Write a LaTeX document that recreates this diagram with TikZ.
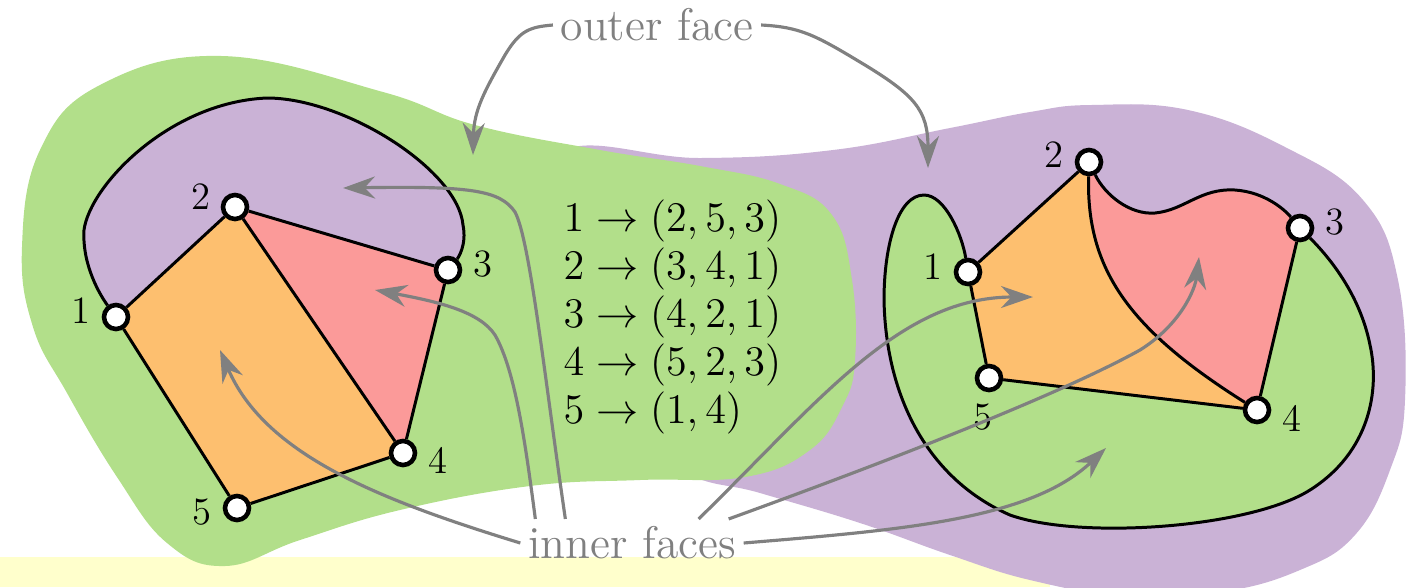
\documentclass[tikz,border=0pt]{standalone}
\usetikzlibrary{positioning, arrows.meta, backgrounds}
\definecolor{faceGreen}{RGB}{178,223,138}
\definecolor{facePurple}{RGB}{202,178,214}
\definecolor{faceOrange}{RGB}{253,191,111}
\definecolor{faceRed}{RGB}{251,154,153}
\definecolor{blockYellow}{RGB}{255,255,204}
\definecolor{pointerGray}{RGB}{128,128,128}
\newcommand{\rotfont}{\fontsize{13}{13.7}\selectfont\lineskiplimit=-10pt\relax}
\tikzset{
  vertex/.style={
    draw, circle, fill=white, line width=1.3pt,
    minimum size=0.24cm, inner sep=0pt
  },
  vlabel/.style={font=\fontsize{11}{13}\selectfont, inner sep=3pt},
  graphedge/.style={draw, line width=0.85pt},
  % Gray annotations
  note/.style={text=pointerGray, font=\fontsize{13}{15}\selectfont, inner sep=2pt},
  pointer/.style={
    draw=pointerGray, line width=0.9pt,
    -{Stealth[length=3.2mm, width=2.2mm]}
  },
  rotlist/.style={align=left, inner sep=0pt, font=\rotfont},
}

\begin{document}
\begin{tikzpicture}[x=0.01cm, y=-0.01cm]
  \useasboundingbox (0,0) rectangle (1409,587);

  %% ── Left embedding: vertices ──
  \node[vertex, label={[vlabel, anchor=349]169:1}] (a1) at (116,317) {};
  \node[vertex, label={[vlabel, anchor=343]163:2}] (a2) at (235,207) {};
  \node[vertex, label={[vlabel, anchor=190]10:3}]  (a3) at (448,270) {};
  \node[vertex, label={[vlabel, anchor=168]-12:4}] (a4) at (403,453) {};
  \node[vertex, label={[vlabel, anchor=7]187:5}]   (a5) at (237,508) {};

  %% ── Right embedding: vertices ──
  \node[vertex, label={[vlabel, anchor=352]172:1}] (b1) at (968,272) {};
  \node[vertex, label={[vlabel, anchor=348]168:2}] (b2) at (1089,162) {};
  \node[vertex, label={[vlabel, anchor=189]9:3}]   (b3) at (1300,228) {};
  \node[vertex, label={[vlabel, anchor=167]-13:4}] (b4) at (1257,410) {};
  \node[vertex, label={[vlabel, anchor=81]261:5}]  (b5) at (989,378) {};

  %% ── Texts ──
  \node[note] (outer) at (657,25) {outer face};
  \node[note] (inner) at (632,543) {inner faces};
  \node[rotlist, anchor=west] (rot) at (563,317)
    {$1 \to (2{,}\,5{,}\,3)$\\ $2 \to (3{,}\,4{,}\,1)$\\ $3 \to (4{,}\,2{,}\,1)$\\ $4 \to (5{,}\,2{,}\,3)$\\ $5 \to (1{,}\,4)$};

  %% ── Faces ──
  \begin{scope}[on background layer]
    \fill[blockYellow] (0,557) rectangle (1050,587);
    \fill[facePurple] plot[smooth cycle, tension=0.7] coordinates {
      (560,152) (700,158) (833,150) (950,128) (1030,112) (1091,105)
      (1188,110) (1285,147) (1363,200) (1398,280) (1405,400) (1390,470)
      (1355,535) (1300,570) (1220,592) (1120,595) (1030,580) (950,555)
      (860,523) (760,493) (680,470) (590,400) (540,250)};
    \fill[faceGreen] plot[smooth cycle, tension=0.7] coordinates {
      (222,56) (383,92) (475,125) (600,150) (700,166) (780,184)
      (832,215) (852,280) (855,360) (843,405) (810,450) (745,477)
      (640,480) (530,486) (400,510) (300,540) (225,566) (167,543)
      (117,477) (67,393) (33,327) (22,247) (40,150) (100,85)};

    % left
    \fill[facePurple] (a1.center) .. controls (100,295) and (82,265) .. (84,230)
      .. controls (90,185) and (170,102) .. (267,98)
      .. controls (345,98) and (458,170) .. (463,225)
      .. controls (467,245) and (458,258) .. (a3.center) -- (a2.center) -- cycle;
    \fill[faceRed] (a2.center) -- (a3.center) -- (a4.center) -- cycle;
    \fill[faceOrange] (a1.center) -- (a2.center) -- (a4.center) -- (a5.center) -- cycle;

    % right
    \fill[faceGreen] (b1.center) .. controls (962,235) and (945,195) .. (924,195)
      .. controls (898,195) and (884,245) .. (884,300)
      .. controls (886,400) and (930,480) .. (1010,515)
      .. controls (1080,540) and (1250,528) .. (1310,490)
      .. controls (1370,452) and (1380,390) .. (1370,345)
      .. controls (1360,295) and (1330,258) .. (b3.center)
      -- (b4.center) -- (b5.center) -- cycle;
    \fill[faceOrange] (b1.center) -- (b2.center) .. controls (1086,270) and (1130,330) .. (b4.center)
      -- (b5.center) -- cycle;
    \fill[faceRed] (b2.center) .. controls (1105,195) and (1130,215) .. (1155,213)
      .. controls (1185,210) and (1200,188) .. (1235,190)
      .. controls (1265,192) and (1285,210) .. (b3.center)
      -- (b4.center) .. controls (1130,330) and (1086,270) .. (b2.center) -- cycle;
  \end{scope}

  %% ── Left embedding: edges ──
  \draw[graphedge] (a1) -- (a2) -- (a3) -- (a4) -- (a5) -- (a1);
  \draw[graphedge] (a2) -- (a4);
  \draw[graphedge] (a1) .. controls (100,295) and (82,265) .. (84,230)
    .. controls (90,185) and (170,102) .. (267,98)
    .. controls (345,98) and (458,170) .. (463,225)
    .. controls (467,245) and (458,258) .. (a3);

  %% ── Right embedding: edges ──
  \draw[graphedge] (b1) -- (b2);
  \draw[graphedge] (b3) -- (b4) -- (b5) -- (b1);
  \draw[graphedge] (b2) .. controls (1086,270) and (1130,330) .. (b4);
  \draw[graphedge] (b2) .. controls (1105,195) and (1130,215) .. (1155,213)
    .. controls (1185,210) and (1200,188) .. (1235,190)
    .. controls (1265,192) and (1285,210) .. (b3);
  \draw[graphedge] (b1) .. controls (962,235) and (945,195) .. (924,195)
    .. controls (898,195) and (884,245) .. (884,300)
    .. controls (886,400) and (930,480) .. (1010,515)
    .. controls (1080,540) and (1250,528) .. (1310,490)
    .. controls (1370,452) and (1380,390) .. (1370,345)
    .. controls (1360,295) and (1330,258) .. (b3);

  %% ── Pointers ──
  \coordinate (tipOutL) at (473,155);
  \coordinate (tipOutR) at (928,168);
  \coordinate (tipLOrange) at (220,350);
  \coordinate (tipLRed) at (375,290);
  \coordinate (tipLPurple) at (343,188);
  \coordinate (tipROrange) at (1033,297);
  \coordinate (tipRRed) at (1199,257);
  \coordinate (tipRGreen) at (1106,448);

  \draw[pointer] (outer.west) .. controls (530,27) and (520,30) .. (505,55)
    .. controls (485,90) and (474,110) .. (tipOutL);
  \draw[pointer] (outer.east) .. controls (800,27) and (815,35) .. (860,62)
    .. controls (915,95) and (928,110) .. (tipOutR);

  \draw[pointer] (inner.west) .. controls (380,500) and (265,455) .. (tipLOrange);
  \draw[pointer] ([xshift=0.15cm]inner.north west) .. controls (525,440) and (515,370) .. (495,335)
    .. controls (480,312) and (440,302) .. (tipLRed);
  \draw[pointer] ([xshift=0.45cm]inner.north west) .. controls (545,380) and (530,240) .. (515,212)
    .. controls (500,190) and (470,186) .. (tipLPurple);
  \draw[pointer] ([xshift=-0.45cm]inner.north east) .. controls (820,400) and (900,297) .. (tipROrange);
  \draw[pointer] ([xshift=-0.15cm]inner.north east) .. controls (850,475) and (1050,400) .. (1140,350)
    .. controls (1180,325) and (1195,290) .. (tipRRed);
  \draw[pointer] (inner.east) .. controls (900,530) and (1030,520) .. (tipRGreen);

\end{tikzpicture}
\end{document}
